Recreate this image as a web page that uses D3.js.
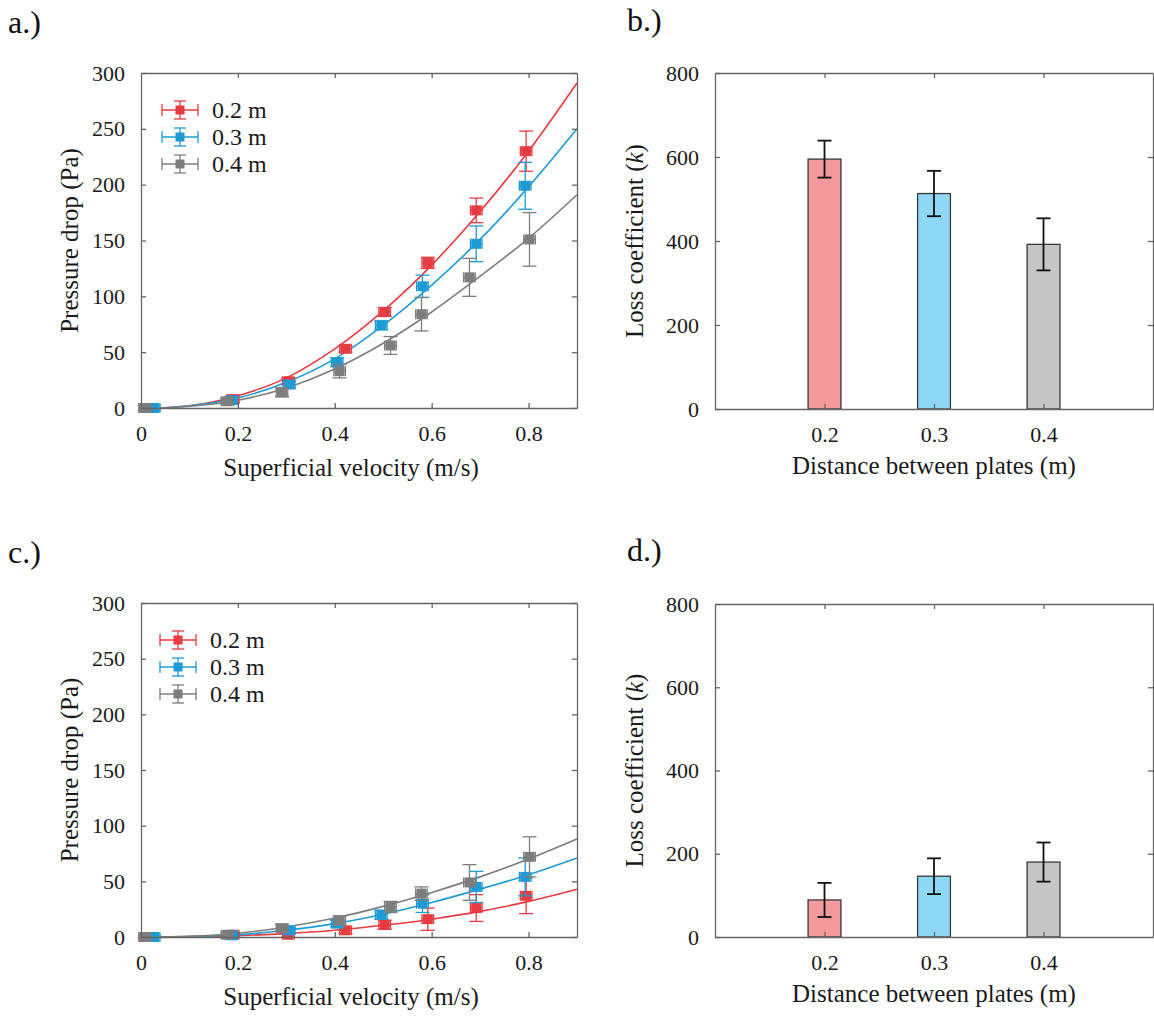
<!DOCTYPE html>
<meta charset="utf-8">
<style>
  body { margin: 0; background: #fff; }
  svg, svg text { font-family: "Liberation Serif", "Times New Roman", Times, "DejaVu Serif", serif; }
  .axis path, .axis line { stroke: #666; stroke-width: 1.3; }
  .axis text { fill: #1a1a1a; font-size: 22px; }
  .title { fill: #1a1a1a; font-size: 25px; }
  .panel-label { fill: #111; font-size: 32px; }
</style>

<body>
  <div id="chart"></div>

  <script src="https://d3js.org/d3.v7.min.js"></script>
  <script>
    var seriesNames = ["0.2 m", "0.3 m", "0.4 m"];
    var seriesColors = ["#e63b40", "#1e9bd5", "#7d7d7d"];
    var barColors = ["#f4999d", "#8fd8f5", "#c6c6c6"];

    var velocityTicks = [0, 0.2, 0.4, 0.6, 0.8];
    var pressureTicks = [0, 50, 100, 150, 200, 250, 300];
    var lossTicks = [0, 200, 400, 600, 800];

    // superficial velocity (m/s), same test points in a.) and c.)
    var velocity = [
      [0.008, 0.19, 0.304, 0.422, 0.503, 0.592, 0.692, 0.795],
      [0.027, 0.187, 0.306, 0.405, 0.496, 0.581, 0.692, 0.793],
      [0.008, 0.178, 0.291, 0.410, 0.515, 0.579, 0.678, 0.802]
    ];
    var velocityErr = [0.012, 0.012, 0.012];

    // a.) pressure drop (Pa)
    var dropA = [
      [0, 8, 24, 53, 86, 130, 177, 230],
      [0, 7, 21, 41, 74, 109, 147, 199],
      [0, 6, 14, 33, 56, 84, 117, 151]
    ];
    var dropErrA = [
      [2, 3, 3, 3, 4, 5, 11, 18],
      [2, 3, 3, 4, 4, 10, 16, 21],
      [2, 3, 4, 6, 8, 15, 17, 24]
    ];

    // c.) pressure drop (Pa)
    var dropC = [
      [0, 2, 2, 6, 11, 16, 26, 37],
      [0, 1.5, 6, 12, 20, 30, 45, 54],
      [0, 2, 8, 15, 27, 39, 49, 72]
    ];
    var dropErrC = [
      [1, 2, 2, 3, 4, 10, 12, 16],
      [1, 2, 2, 3, 4, 8, 14, 17],
      [1, 2, 3, 4, 5, 6, 16, 18]
    ];

    // fitted curves
    var fitVelocity = [0.04, 0.1, 0.2, 0.3, 0.4, 0.5, 0.6, 0.7, 0.8, 0.9];
    var fitA = [
      [0, 2, 11, 27, 53, 87, 128, 176, 230, 291],
      [0, 2, 9, 23, 44, 74, 110, 151, 198, 250],
      [0, 1.5, 7, 18, 35, 58, 86, 118, 152, 191]
    ];
    var fitC = [
      [0, 0.3, 1.2, 3, 6, 10.5, 16, 23, 32, 43],
      [0, 0.5, 2, 6, 12, 20.5, 31, 43, 56, 71],
      [0, 0.6, 3.3, 9, 17, 27.5, 40, 54, 70, 88]
    ];

    // b.) and d.) loss coefficient
    var plateDistance = [0.2, 0.3, 0.4];
    var lossB = [595, 513, 392];
    var lossErrB = [44, 54, 62];
    var lossD = [89, 146, 180];
    var lossErrD = [41, 43, 47];

    var svg = d3.select("#chart").append("svg")
      .attr("width", 1154)
      .attr("height", 1017);

    function frame(box, x, y, xTicks, yTicks, xTopTicks, yRightTicks) {
      svg.append("g")
        .attr("class", "axis")
        .attr("transform", "translate(0," + box.bottom + ")")
        .call(d3.axisBottom(x).tickValues(xTicks).tickFormat(d3.format(""))
          .tickSizeInner(-5).tickSizeOuter(0).tickPadding(17));

      svg.append("g")
        .attr("class", "axis")
        .attr("transform", "translate(" + box.left + ",0)")
        .call(d3.axisLeft(y).tickValues(yTicks).tickFormat(d3.format(""))
          .tickSizeInner(-5).tickSizeOuter(0).tickPadding(16));

      svg.append("g")
        .attr("class", "axis")
        .attr("transform", "translate(0," + box.top + ")")
        .call(d3.axisTop(x).tickValues(xTopTicks).tickFormat("")
          .tickSizeInner(-5).tickSizeOuter(0));

      svg.append("g")
        .attr("class", "axis")
        .attr("transform", "translate(" + box.right + ",0)")
        .call(d3.axisRight(y).tickValues(yRightTicks).tickFormat("")
          .tickSizeInner(-5).tickSizeOuter(0));

      svg.selectAll(".axis").attr("font-family", null).attr("font-size", null);
    }

    function errorMark(g, cx, cy, x0, x1, y0, y1, color, capW, capH, size) {
      g.append("line").attr("x1", cx).attr("x2", cx).attr("y1", y0).attr("y2", y1);
      g.append("line").attr("x1", cx - capW).attr("x2", cx + capW).attr("y1", y0).attr("y2", y0);
      g.append("line").attr("x1", cx - capW).attr("x2", cx + capW).attr("y1", y1).attr("y2", y1);
      g.append("line").attr("x1", x0).attr("x2", x1).attr("y1", cy).attr("y2", cy);
      g.append("line").attr("x1", x0).attr("x2", x0).attr("y1", cy - capH).attr("y2", cy + capH);
      g.append("line").attr("x1", x1).attr("x2", x1).attr("y1", cy - capH).attr("y2", cy + capH);
      g.append("rect")
        .attr("x", cx - size / 2).attr("y", cy - size / 2)
        .attr("width", size).attr("height", size)
        .style("fill", color).style("stroke", "none");
    }

    function drawScatter(box, drop, dropErr, fit, legend) {
      var x = d3.scaleLinear().domain([0, 0.9]).range([box.left, box.right]);
      var y = d3.scaleLinear().domain([0, 300]).range([box.bottom, box.top]);

      var line = d3.line()
        .x(function (d) { return x(d[0]); })
        .y(function (d) { return y(d[1]); })
        .curve(d3.curveMonotoneX);

      fit.forEach(function (f, i) {
        svg.append("path")
          .datum(fitVelocity.map(function (v, j) { return [v, f[j]]; }))
          .attr("d", line)
          .style("fill", "none")
          .style("stroke", seriesColors[i])
          .style("stroke-width", 1.6);
      });

      drop.forEach(function (s, i) {
        var g = svg.append("g")
          .style("stroke", seriesColors[i])
          .style("stroke-width", 1.3);
        s.forEach(function (d, j) {
          var v = velocity[i][j], e = dropErr[i][j], xe = velocityErr[i];
          errorMark(g, x(v), y(d), x(v - xe), x(v + xe), y(d + e), y(d - e),
            seriesColors[i], 7, 5, 10);
        });
      });

      frame(box, x, y, velocityTicks, pressureTicks, velocityTicks.slice(1), pressureTicks);

      // legend
      seriesNames.forEach(function (name, i) {
        var ly = legend.y[i];
        var g = svg.append("g")
          .style("stroke", seriesColors[i])
          .style("stroke-width", 1.3);
        errorMark(g, legend.x, ly, legend.x - 18, legend.x + 18, ly - 9, ly + 9,
          seriesColors[i], 6, 6, 9);
        svg.append("text")
          .attr("x", legend.x + 32)
          .attr("y", ly)
          .attr("dy", "0.35em")
          .style("font-size", "24px")
          .style("fill", "#1a1a1a")
          .text(name);
      });

      svg.append("text")
        .attr("class", "title")
        .attr("x", (box.left + box.right) / 2 - 8)
        .attr("y", box.bottom + 68)
        .attr("text-anchor", "middle")
        .text("Superficial velocity (m/s)");

      svg.append("text")
        .attr("class", "title")
        .attr("transform", "translate(" + (box.left - 63) + "," + (box.top + box.bottom) / 2 + ") rotate(-90)")
        .attr("text-anchor", "middle")
        .text("Pressure drop (Pa)");
    }

    function drawBars(box, loss, lossErr) {
      var x = d3.scaleLinear().domain([0.1, 0.5]).range([box.left, box.right]);
      var y = d3.scaleLinear().domain([0, 800]).range([box.bottom, box.top]);
      var halfBar = 0.015;

      svg.append("g").selectAll("rect")
        .data(loss)
        .enter()
        .append("rect")
        .attr("x", function (d, i) { return x(plateDistance[i] - halfBar); })
        .attr("width", x(0.1 + 2 * halfBar) - x(0.1))
        .attr("y", function (d) { return y(d); })
        .attr("height", function (d) { return y(0) - y(d); })
        .style("fill", function (d, i) { return barColors[i]; })
        .style("stroke", "#3a3a3a")
        .style("stroke-width", 1.3);

      var eg = svg.append("g").style("stroke", "#111").style("stroke-width", 1.8);
      loss.forEach(function (d, i) {
        var cx = x(plateDistance[i]);
        var top = y(d + lossErr[i]), bot = y(d - lossErr[i]);
        eg.append("line").attr("x1", cx).attr("x2", cx).attr("y1", top).attr("y2", bot);
        eg.append("line").attr("x1", cx - 7).attr("x2", cx + 7).attr("y1", top).attr("y2", top);
        eg.append("line").attr("x1", cx - 7).attr("x2", cx + 7).attr("y1", bot).attr("y2", bot);
      });

      frame(box, x, y, plateDistance, lossTicks, plateDistance, lossTicks.slice(1, -1));

      svg.append("text")
        .attr("class", "title")
        .attr("x", (box.left + box.right) / 2)
        .attr("y", box.bottom + 65)
        .attr("text-anchor", "middle")
        .text("Distance between plates (m)");

      var yt = svg.append("text")
        .attr("class", "title")
        .attr("transform", "translate(" + (box.left - 72) + "," + (box.top + box.bottom) / 2 + ") rotate(-90)")
        .attr("text-anchor", "middle");
      yt.append("tspan").text("Loss coefficient (");
      yt.append("tspan").style("font-style", "italic").text("k");
      yt.append("tspan").text(")");
    }

    drawScatter({ left: 141, right: 577, top: 73, bottom: 408 }, dropA, dropErrA, fitA,
      { x: 180, y: [110, 137, 164] });
    drawScatter({ left: 141, right: 577, top: 603, bottom: 937 }, dropC, dropErrC, fitC,
      { x: 178, y: [640, 667, 694] });
    drawBars({ left: 715, right: 1153, top: 73, bottom: 409 }, lossB, lossErrB);
    drawBars({ left: 715, right: 1153, top: 604, bottom: 937 }, lossD, lossErrD);

    [["a.)", 8, 33], ["b.)", 627, 31], ["c.)", 8, 563], ["d.)", 627, 561]].forEach(function (p) {
      svg.append("text")
        .attr("class", "panel-label")
        .attr("x", p[1])
        .attr("y", p[2])
        .text(p[0]);
    });
  </script>
</body>
